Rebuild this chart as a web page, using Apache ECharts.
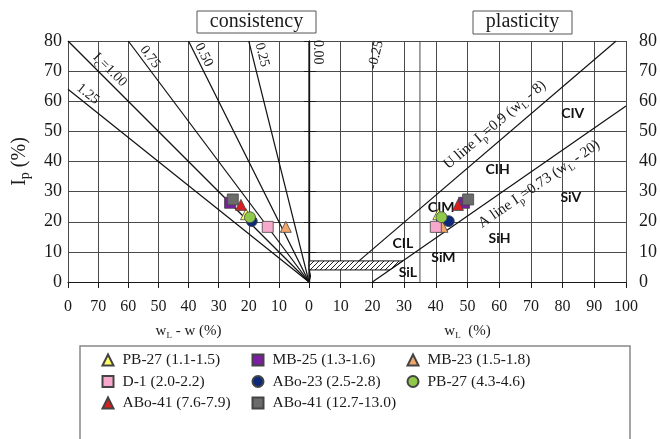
<!DOCTYPE html>
<html>
<head>
<meta charset="utf-8">
<script src="https://cdn.jsdelivr.net/npm/echarts@6/dist/echarts.min.js"></script>
<style>
  html, body { margin: 0; padding: 0; background: #fff; }
  #chart { width: 660px; height: 439px; }
</style>
</head>
<body>
<div id="chart"></div>
<script>
// Samples with depth range (m)
const sampleNames = ['PB-27 (1.1-1.5)', 'MB-25 (1.3-1.6)', 'MB-23 (1.5-1.8)', 'D-1 (2.0-2.2)',
                     'ABo-23 (2.5-2.8)', 'PB-27 (4.3-4.6)', 'ABo-41 (7.6-7.9)', 'ABo-41 (12.7-13.0)'];
// Plasticity index Ip (%)
const plasticityIndex = [22.5, 26.3, 18.3, 18.3, 20.2, 21.5, 25.6, 27.4];
// Liquid limit wL (%)
const liquidLimit = [40.8, 48.9, 42.1, 40.0, 44.1, 41.8, 47.0, 50.2];
// wL - w (%)
const wLminusW = [20.9, 26.2, 7.7, 13.7, 19.0, 19.6, 22.6, 25.3];

// Consistency index lines Ic = (wL - w) / Ip
const consistencyIndex = [1.25, 1.00, 0.75, 0.50, 0.25, 0.00, -0.25];
const consistencyText = ['1.25', 'Ic=1.00', '0.75', '0.50', '0.25', '0.00', '-0.25'];

// Casagrande lines: Ip = k (wL - c)
const uLine = { k: 0.9, c: 8 };
const aLine = { k: 0.73, c: 20 };
const uLineStartIp = 7;
const hatchBandIp = [4, 7];
const lowMediumBoundary = 35;

// Zone names
const zoneNames = ['CIL', 'SiL', 'SiM', 'CIM', 'CIH', 'SiH', 'CIV', 'SiV'];
const zoneAnchors = [[29.6, 12.9], [31.2, 3.0], [42.4, 8.3], [41.7, 24.6],
                     [59.5, 37.2], [60.1, 14.6], [83.2, 55.8], [82.6, 27.9]];

// Tick labels
const leftXTickLabels = { 0: '', 10: '10', 20: '20', 30: '30', 40: '40', 50: '50', 60: '60', 70: '70', 80: '0' };

// ---- styling ----
const symbols = ['triangle', 'rect', 'triangle', 'rect', 'circle', 'circle', 'triangle', 'rect'];
const colors = ['#ffff66', '#7a1fa2', '#f2a66a', '#f7a8cc', '#0d2a7a', '#8fc94a', '#d81e1e', '#6b6b6b'];
const SERIF = '"Liberation Serif", "Times New Roman", serif';
const SANS = 'Lato, "Open Sans", sans-serif';
const INK = '#1a1a1a';
const GRID_LINE = '#4a4a4a';

const chart = echarts.init(document.getElementById('chart'), null, { renderer: 'canvas' });

// diagonal hatching
function makeHatch() {
  const c = document.createElement('canvas');
  c.width = 5; c.height = 5;
  const g = c.getContext('2d');
  g.fillStyle = '#fff';
  g.fillRect(0, 0, 5, 5);
  g.strokeStyle = '#222';
  g.lineWidth = 1;
  g.beginPath();
  g.moveTo(-1, 6); g.lineTo(6, -1);
  g.moveTo(-1, 1); g.lineTo(1, -1);
  g.moveTo(4, 6); g.lineTo(6, 4);
  g.stroke();
  return { image: c, repeat: 'repeat' };
}

const subRich = {
  b: { fontFamily: SERIF, fontSize: 15, color: INK, lineHeight: 20, verticalAlign: 'middle' },
  s: { fontFamily: SERIF, fontSize: 10, color: INK, lineHeight: 10, verticalAlign: 'bottom' }
};

const series = [];

// consistency lines (left panel, x = wL - w)
consistencyIndex.forEach((ic) => {
  const end = ic > 1 ? [80, 80 / ic] : [80 * ic, 80];
  series.push({
    type: 'line', xAxisIndex: 0, yAxisIndex: 0, clip: false, silent: true,
    symbol: 'none', data: [[0, 0], end],
    lineStyle: { color: '#111', width: 1.2 }, z: 3
  });
});

// consistency line labels
const consistencyLabelAnchors = [[73.4, 62.4, -38.7], [66.1, 70.4, -45], [52.8, 74.7, -53],
  [34.9, 75.4, -63.3], [15.6, 75.4, -75.8], [-3.0, 76.3, -90], [-22.2, 75.4, 76]];
series.push({
  type: 'scatter', xAxisIndex: 0, yAxisIndex: 0, clip: false, silent: true, symbolSize: 0, z: 4,
  itemStyle: { opacity: 1 },
  data: consistencyText.map((t, i) => ({
    value: [consistencyLabelAnchors[i][0], consistencyLabelAnchors[i][1]],
    label: {
      show: true, position: 'inside', rotate: consistencyLabelAnchors[i][2],
      formatter: t === 'Ic=1.00' ? '{b|I}{s|c}{b|=1.00}' : '{b|' + t + '}',
      rich: { b: Object.assign({}, subRich.b, { fontSize: 14 }), s: subRich.s }
    }
  }))
});

// hatched band between Ip 4 and 7 bounded by the A line
const bandPolygon = [
  [0, hatchBandIp[0]], [0, hatchBandIp[1]],
  [hatchBandIp[1] / aLine.k + aLine.c, hatchBandIp[1]],
  [hatchBandIp[0] / aLine.k + aLine.c, hatchBandIp[0]]
];
const hatch = makeHatch();
series.push({
  type: 'custom', xAxisIndex: 1, yAxisIndex: 1, silent: true, z: 3,
  data: [0],
  renderItem: (params, api) => ({
    type: 'polygon',
    shape: { points: bandPolygon.map(p => api.coord(p)) },
    style: { fill: hatch, stroke: '#111', lineWidth: 1 }
  })
});

// U line and A line
series.push({
  type: 'line', xAxisIndex: 1, yAxisIndex: 1, symbol: 'none', silent: true, z: 3,
  data: [[uLineStartIp / uLine.k + uLine.c, uLineStartIp], [80 / uLine.k + uLine.c, 80]],
  lineStyle: { color: '#111', width: 1.2 }
});
series.push({
  type: 'line', xAxisIndex: 1, yAxisIndex: 1, symbol: 'none', silent: true, z: 3,
  data: [[aLine.c, 0], [100, aLine.k * (100 - aLine.c)]],
  lineStyle: { color: '#111', width: 1.2 }
});
// wL = 35 boundary
series.push({
  type: 'line', xAxisIndex: 1, yAxisIndex: 1, symbol: 'none', silent: true, z: 2,
  data: [[lowMediumBoundary, 0], [lowMediumBoundary, 80]],
  lineStyle: { color: GRID_LINE, width: 1 }
});

// line equations and zone names
series.push({
  type: 'scatter', xAxisIndex: 1, yAxisIndex: 1, clip: false, silent: true, symbolSize: 0, z: 4,
  itemStyle: { opacity: 1 },
  data: [
    { value: [58.6, 52.1], label: { show: true, position: 'inside', rotate: 40.2,
      formatter: '{b|U line I}{s|p}{b|=0.9 (w}{s|L}{b| - 8)}', rich: subRich } },
    { value: [72.6, 32.5], label: { show: true, position: 'inside', rotate: 34.4,
      formatter: '{b|A line I}{s|p}{b|=0.73 (w}{s|L}{b| - 20)}', rich: subRich } }
  ].concat(zoneNames.map((n, i) => ({
    value: zoneAnchors[i],
    label: { show: true, position: 'inside', formatter: n,
      fontFamily: SANS, fontWeight: 'bold', fontSize: 14, color: '#111' }
  })))
});

// samples in both panels
sampleNames.forEach((name, i) => {
  const common = {
    name, type: 'scatter', symbol: symbols[i], symbolSize: 11,
    itemStyle: { color: colors[i], borderColor: '#444', borderWidth: 0.8, opacity: 1 }, z: 5
  };
  series.push(Object.assign({}, common, {
    xAxisIndex: 0, yAxisIndex: 0, data: [[wLminusW[i], plasticityIndex[i]]]
  }));
  series.push(Object.assign({}, common, {
    xAxisIndex: 1, yAxisIndex: 1, data: [[liquidLimit[i], plasticityIndex[i]]]
  }));
});

const axisNameRich = {
  b: { fontFamily: SERIF, fontSize: 15, color: INK, lineHeight: 18, verticalAlign: 'middle' },
  s: { fontFamily: SERIF, fontSize: 9, color: INK, lineHeight: 9, verticalAlign: 'bottom' }
};

const splitLine = { show: true, lineStyle: { color: GRID_LINE, width: 1 } };
const axisLine = { show: true, lineStyle: { color: INK, width: 1.2 } };

function legendColumn(left, idx) {
  return {
    orient: 'vertical', left, top: 347, itemGap: 5.5, itemWidth: 11, itemHeight: 11,
    selectedMode: false, data: idx.map(k => sampleNames[k]),
    textStyle: { fontFamily: SERIF, fontSize: 15.5, color: INK, lineHeight: 16, padding: [0, 0, 0, 4] }
  };
}

chart.setOption({
  animation: false,
  backgroundColor: '#fff',
  grid: [
    { left: 68, top: 41, width: 241, height: 241 },
    { left: 309, top: 41, width: 321, height: 241 }
  ],
  xAxis: [
    {
      gridIndex: 0, type: 'value', min: 0, max: 80, interval: 10, inverse: true,
      axisLine, splitLine,
      axisTick: { show: true, length: 6, lineStyle: { color: INK } },
      axisLabel: { margin: 17, fontFamily: SERIF, fontSize: 16, color: INK,
        formatter: v => leftXTickLabels[v] },
      name: '{b|w}{s|L}{b| - w (%)}', nameLocation: 'middle', nameGap: 40,
      nameTextStyle: { rich: axisNameRich }
    },
    {
      gridIndex: 1, type: 'value', min: 0, max: 100, interval: 10,
      axisLine, splitLine,
      axisTick: { show: true, length: 6, lineStyle: { color: INK } },
      axisLabel: { margin: 17, fontFamily: SERIF, fontSize: 16, color: INK },
      name: '{b|w}{s|L}{b|  (%)}', nameLocation: 'middle', nameGap: 40,
      nameTextStyle: { rich: axisNameRich }
    }
  ],
  yAxis: [
    {
      gridIndex: 0, type: 'value', min: 0, max: 80, interval: 10, position: 'left',
      axisLine, splitLine,
      axisTick: { show: true, length: 5, lineStyle: { color: INK } },
      axisLabel: { margin: 6, fontFamily: SERIF, fontSize: 18, color: INK },
      name: '{b|I}{s|p}{b| (%)}', nameLocation: 'middle', nameGap: 36,
      nameTextStyle: { rich: {
        b: { fontFamily: SERIF, fontSize: 20, color: INK, lineHeight: 24, verticalAlign: 'middle' },
        s: { fontFamily: SERIF, fontSize: 14, color: INK, lineHeight: 12, verticalAlign: 'bottom' }
      } }
    },
    {
      gridIndex: 1, type: 'value', min: 0, max: 80, interval: 10, position: 'right',
      axisLine, splitLine,
      axisTick: { show: true, length: 7, lineStyle: { color: INK } },
      axisLabel: { margin: 13, fontFamily: SERIF, fontSize: 18, color: INK }
    }
  ],
  legend: [
    legendColumn(96.5, [0, 3, 6]),
    legendColumn(246.5, [1, 4, 7]),
    legendColumn(401.5, [2, 5])
  ],
  graphic: [
    { type: 'rect', shape: { x: 197, y: 11, width: 119, height: 22 },
      style: { fill: '#fff', stroke: '#555', lineWidth: 1 } },
    { type: 'text', x: 256.5, y: 22,
      style: { text: 'consistency', font: '20px ' + SERIF, fill: INK, align: 'center', verticalAlign: 'middle' } },
    { type: 'rect', shape: { x: 473, y: 11, width: 99, height: 23 },
      style: { fill: '#fff', stroke: '#555', lineWidth: 1 } },
    { type: 'text', x: 522.5, y: 22,
      style: { text: 'plasticity', font: '20px ' + SERIF, fill: INK, align: 'center', verticalAlign: 'middle' } },
    { type: 'rect', shape: { x: 80, y: 346, width: 550, height: 100 },
      style: { fill: 'none', stroke: '#888', lineWidth: 1.5 }, z: -1 }
  ],
  series
});
</script>
</body>
</html>
